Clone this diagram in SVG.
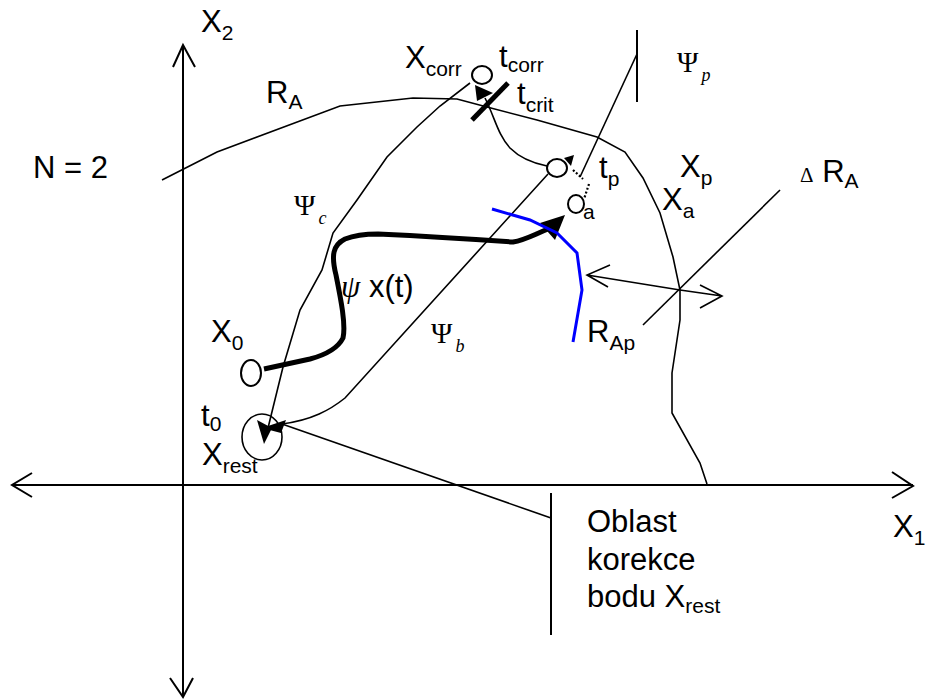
<svg xmlns="http://www.w3.org/2000/svg" width="927" height="699" viewBox="0 0 927 699">
<style>
.t{font-family:"Liberation Sans",Arial,sans-serif;font-size:31px;fill:#000}
.s{font-size:21px}
.g{font-family:"Liberation Serif","Times New Roman",serif;font-size:29px;fill:#000}
.gi{font-style:italic;font-size:18px}
.ln{fill:none;stroke:#000;stroke-width:1.6}
.ax{fill:none;stroke:#000;stroke-width:2}
.nd{fill:#fff;stroke:#000;stroke-width:2}
.ah{fill:#000;stroke:none}
</style>
<rect width="927" height="699" fill="#fff"/>
<g id="axes">
<path class="ax" d="M183,697 V45 M173,67 L183,45 L195,67 M170,678 L183,697 L193,678"/>
<path class="ax" d="M12,485 H913 M32,473 L12,485 L32,497 M892,472 L913,486 L892,498"/>
<text class="t" x="201" y="32">X<tspan class="s" dy="8">2</tspan></text>
<text class="t" x="893" y="537">X<tspan class="s" dy="8">1</tspan></text>
</g>
<g id="region">
<path class="ln" d="M162,180 L217,152 L340,106 L413,98 L457,99 L487,107 L537,120 L597,137 L625,152 L643,178 L660,213 L673,257 L680,290 L680,320 L672,373 L672,413 L700,463 L707,484"/>
<text class="t" x="266" y="103">R<tspan class="s" dy="6">A</tspan></text>
<text class="t" x="33" y="178">N = 2</text>
</g>
<g id="connectors">
<path id="psi-c" class="ln" d="M470,83 L440,106 L417,127 L387,157 L357,200 L333,233 L322,270 L300,310 L283,367 L268,428"/>
<path id="psi-b" class="ln" d="M282,424 C312,420 330,410 345,398 L548,174"/>
<path id="psi-p" class="ln" d="M637,54 L580,177"/>
<line class="ax" x1="637" y1="30" x2="637" y2="102"/>
<path id="pointer" class="ln" d="M282,424 L551,518"/>
<line class="ax" x1="551" y1="493" x2="551" y2="635"/>
<path id="crit-to-p" class="ln" d="M485,98 C495,118 498,135 510,148 C520,158 532,163 547,166"/>
<line x1="472" y1="120" x2="508" y2="83" stroke="#000" stroke-width="5"/>
<polygon class="ah" points="475,85 493,93 477,101"/>
<path d="M573,170 L583,179 M589,184 L584,199" fill="none" stroke="#000" stroke-width="2.2" stroke-dasharray="2,2"/>
<polygon class="ah" points="564,158 574,155 571,166"/>
<path id="traj" d="M264,369 L310,359 C325,355 338,348 343,338 C346,325 341,300 336,275 C331,255 333,245 345,239 C355,235 365,234 378,234 C420,236 470,239 513,242 C525,240 533,235 548,229" fill="none" stroke="#000" stroke-width="5" stroke-linejoin="round"/>
<polygon class="ah" points="565,215 540,223 555,240"/>
<path id="blue" d="M492,209 L530,220 L557,233 L577,253 L582,290 L573,342" fill="none" stroke="#0000ff" stroke-width="3"/>
<path id="dRA" class="ln" d="M780,190 L643,325"/>
<path id="RAp" class="ln" d="M587,275 L680,290 L722,296 M610,265 L587,275 L608,287 M700,285 L722,296 L700,308"/>
<polygon class="ah" points="257,420 272,428 264,444"/>
<polygon class="ah" points="262,428 286,420 281,433"/>
</g>
<g id="node-X0">
<ellipse class="nd" cx="251" cy="373" rx="10" ry="13"/>
<text class="t" x="211" y="342">X<tspan class="s" dy="8">0</tspan></text>
</g>
<g id="node-Xrest">
<ellipse cx="262" cy="437" rx="20" ry="23" fill="none" stroke="#000" stroke-width="1.6"/>
<text class="t" x="201" y="426">t<tspan class="s" dy="5">0</tspan></text>
<text class="t" x="202" y="465">X<tspan class="s" dy="8">rest</tspan></text>
</g>
<g id="node-Xcorr">
<ellipse class="nd" cx="482" cy="75" rx="10" ry="9"/>
<text class="t" x="405" y="68">X<tspan class="s" dy="8">corr</tspan></text>
<text class="t" x="499" y="67">t<tspan class="s" dy="5">corr</tspan></text>
<text class="t" x="517" y="104">t<tspan class="s" dy="8">crit</tspan></text>
</g>
<g id="node-Xp">
<ellipse class="nd" cx="557" cy="168" rx="10" ry="9"/>
<text class="t" x="599" y="178">t<tspan class="s" dy="8">p</tspan></text>
<text class="t" x="680" y="177">X<tspan class="s" dy="8">p</tspan></text>
</g>
<g id="node-Xa">
<ellipse class="nd" cx="576" cy="204" rx="8" ry="9"/>
<text class="t s" x="583" y="219">a</text>
<text class="t" x="662" y="210">X<tspan class="s" dy="8">a</tspan></text>
</g>
<g id="labels">
<text class="g" x="677" y="72">Ψ<tspan class="gi" dx="3" dy="9">p</tspan></text>
<text class="g" x="294" y="215">Ψ<tspan class="gi" dx="3" dy="9">c</tspan></text>
<text class="g" x="431" y="343">Ψ<tspan class="gi" dx="3" dy="9">b</tspan></text>
<text class="t" x="341" y="297"><tspan font-family="'Liberation Serif',serif" font-style="italic">ψ</tspan> x(t)</text>
<text class="t" x="800" y="182"><tspan font-family="'Liberation Serif',serif" font-size="21">Δ</tspan> R<tspan class="s" dy="6">A</tspan></text>
<text class="t" x="587" y="342">R<tspan class="s" dy="8">Ap</tspan></text>
<text class="t" x="587" y="532">Oblast</text>
<text class="t" x="587" y="570">korekce</text>
<text class="t" x="587" y="607">bodu X<tspan class="s" dy="6">rest</tspan></text>
</g>
</svg>
